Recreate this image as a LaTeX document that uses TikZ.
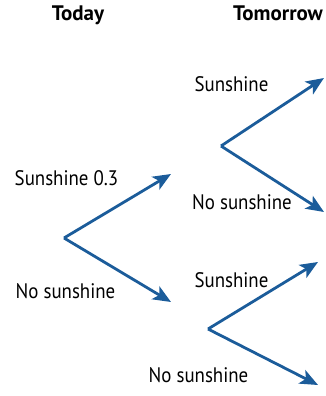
\documentclass[tikz,border=0pt]{standalone}
\usepackage{fontspec}
\setmainfont{PT Sans}[FakeStretch=0.9]
\newfontfamily\headfont{PT Sans}
\usetikzlibrary{arrows.meta}
\definecolor{branchblue}{HTML}{1B5C9A}
\tikzset{
  branch/.style={draw=branchblue, line width=2.8pt,
    -{Stealth[length=18pt,width=15pt,inset=4.5pt]}},
  heading/.style={font=\headfont\fontsize{21}{23}\selectfont\bfseries, inner sep=0pt, anchor=base},
  outcome/.style={font=\fontsize{21}{23}\selectfont, inner sep=0pt, anchor=base},
}
\begin{document}
\begin{tikzpicture}[x=1pt,y=-1pt]
  \useasboundingbox (0,0) rectangle (325,396);
  % column headings
  \node[heading] (today) at (78,21) {Today};
  \node[heading] (tomorrow) at (278,21) {Tomorrow};
  % branching points
  \coordinate (r) at (64,238);
  \coordinate (s) at (221,146);
  \coordinate (n) at (208,329);
  % tips of the branches
  \coordinate (rs) at (171,174);
  \coordinate (rn) at (171,302);
  \coordinate (ss) at (324,78);
  \coordinate (sn) at (324,212);
  \coordinate (ns) at (318,262);
  \coordinate (nn) at (318,385);
  % branches
  \draw[branch] (r) -- (rs);
  \draw[branch] (r) -- (rn);
  \draw[branch] (s) -- (ss);
  \draw[branch] (s) -- (sn);
  \draw[branch] (n) -- (ns);
  \draw[branch] (n) -- (nn);
  % outcome labels
  \node[outcome] (l1) at (66.5,185) {Sunshine 0.3};
  \node[outcome] (l2) at (65.5,298) {No sunshine};
  \node[outcome] (l3) at (231.5,91) {Sunshine};
  \node[outcome] (l4) at (242,209) {No sunshine};
  \node[outcome] (l5) at (231.5,287) {Sunshine};
  \node[outcome] (l6) at (198.5,382) {No sunshine};
\end{tikzpicture}
\end{document}
